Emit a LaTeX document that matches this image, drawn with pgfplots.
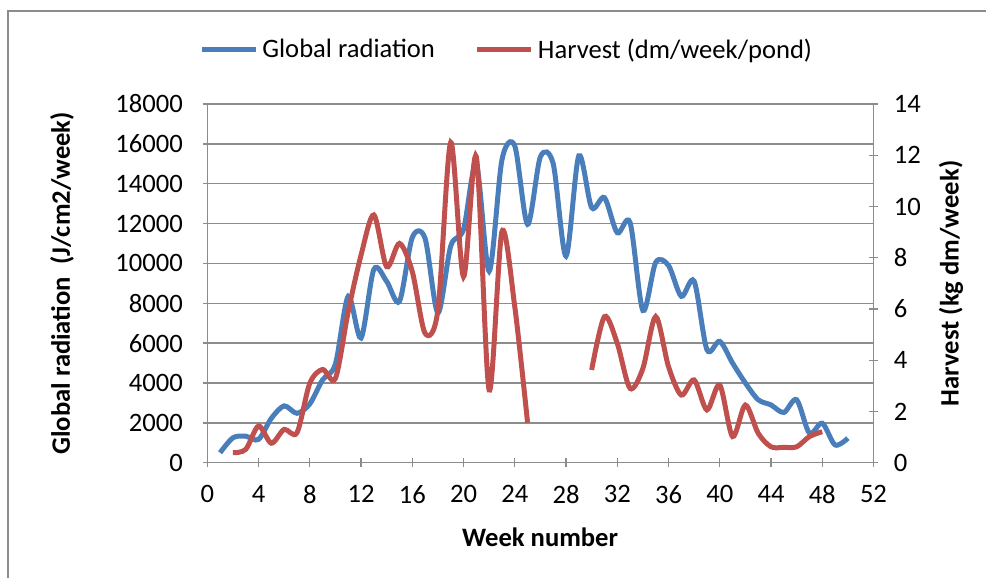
\documentclass[border=0pt]{standalone}
\usepackage{fontspec}
\setmainfont{Carlito}
\usepackage{pgfplots}
\pgfplotsset{compat=1.18}
\definecolor{xblue}{RGB}{74,126,187}
\definecolor{xred}{RGB}{192,80,77}
\definecolor{xgrid}{RGB}{140,140,140}
\begin{document}
\begin{tikzpicture}[x=1pt,y=1pt,font=\fontsize{13.3pt}{15pt}\selectfont]
\useasboundingbox (-103.65,-57.65) rectangle (389.35,231.35);
\draw[xgrid,line width=1pt] (-99.5,-60) -- (-99.5,226) -- (392,226);
\pgfplotsset{
  common/.style={
    scale only axis, width=333.1pt, height=179.35pt,
    at={(0,0)}, anchor=south west,
    xmin=0, xmax=52,
    tick align=outside,
    major tick length=4.5pt,
    axis line style={xgrid, line width=0.7pt},
    tick style={xgrid, line width=0.7pt},
    /pgf/number format/1000 sep={},
    /pgf/number format/assume math mode=true,
    scaled y ticks=false,
  },
}
\begin{axis}[common,
  axis x line=bottom, axis y line=left,
  ymin=0, ymax=18000,
  ytick={0,2000,...,18000},
  xtick={0,4,...,52},
  ymajorgrids, grid style={xgrid, line width=0.7pt},
  x axis line style={-}, y axis line style={-},
  xticklabel style={inner sep=0pt, anchor=north, yshift=-9pt},
  yticklabel style={inner sep=0pt, anchor=east, xshift=-9.8pt},
  xlabel={\bfseries Week number},
  ylabel={\bfseries Global radiation\ \ (J/cm2/week)},
  xlabel style={at={(axis description cs:0.4995,-0.2085)}, anchor=center, inner sep=0pt},
  ylabel style={at={(axis description cs:-0.2181,0.5)}, anchor=center, rotate=0, inner sep=0pt},
]
\addplot[xblue, line width=2.5pt, smooth] coordinates {
(1,500) (2,1250) (3,1330) (4,1170) (5,2230) (6,2850) (7,2480) (8,2950)
(9,4160) (10,4950) (11,8350) (12,6260) (13,9700) (14,9100) (15,8100)
(16,11300) (17,11250) (18,7520) (19,10870) (20,11710) (21,14980)
(22,9610) (23,15200) (24,15900) (25,11960) (26,15350) (27,15000)
(28,10370) (29,15400) (30,12800) (31,13300) (32,11540) (33,12050)
(34,7640) (35,10050) (36,9900) (37,8350) (38,9110) (39,5670) (40,6090)
(41,5000) (42,4000) (43,3160) (44,2900) (45,2520) (46,3160) (47,1480)
(48,1980) (49,890) (50,1230)};
\end{axis}
\begin{axis}[common,
  axis x line=none, axis y line=right,
  y axis line style={-},
  ymin=0, ymax=14, ytick={0,2,...,14},
  yticklabel style={inner sep=0pt, anchor=west, xshift=7.75pt},
  ylabel={\bfseries Harvest (kg dm/week)},
  ylabel style={at={(axis description cs:1.1163,0.5)}, anchor=center, rotate=0, inner sep=0pt},
  legend columns=2,
  legend style={at={(axis description cs:-0.0125,1.1506)}, anchor=west,
    draw=none, fill=none, inner sep=0pt,
    nodes={inner xsep=2pt, inner ysep=0pt},
    /tikz/every even column/.append style={column sep=18pt}},
  legend image code/.code={\draw[#1] (0pt,0pt) -- (27pt,0pt);},
]
\addlegendimage{xblue, line width=2.5pt}
\addlegendentry{Global radiation}
\addplot[xred, line width=2.5pt, smooth] coordinates {
(2,0.39) (3,0.52) (4,1.43) (5,0.76) (6,1.3) (7,1.17) (8,3.1) (9,3.64)
(10,3.29) (11,5.9) (12,8.1) (13,9.67) (14,7.65) (15,8.56) (16,7.46)
(17,5.05) (18,5.96) (19,12.5) (20,7.26) (21,11.94) (22,2.84) (23,9.02)
(24,6.09) (25,1.56)};
\addlegendentry{Harvest (dm/week/pond)}
\addplot[xred, line width=2.5pt, smooth, forget plot] coordinates {
(30,3.62) (31,5.7) (32,4.66) (33,2.9) (34,3.68) (35,5.7) (36,3.75)
(37,2.64) (38,3.23) (39,2.06) (40,3.03) (41,1.02) (42,2.25) (43,1.15)
(44,0.62) (45,0.6) (46,0.62) (47,1.02) (48,1.21)};
\end{axis}
\end{tikzpicture}
\end{document}
